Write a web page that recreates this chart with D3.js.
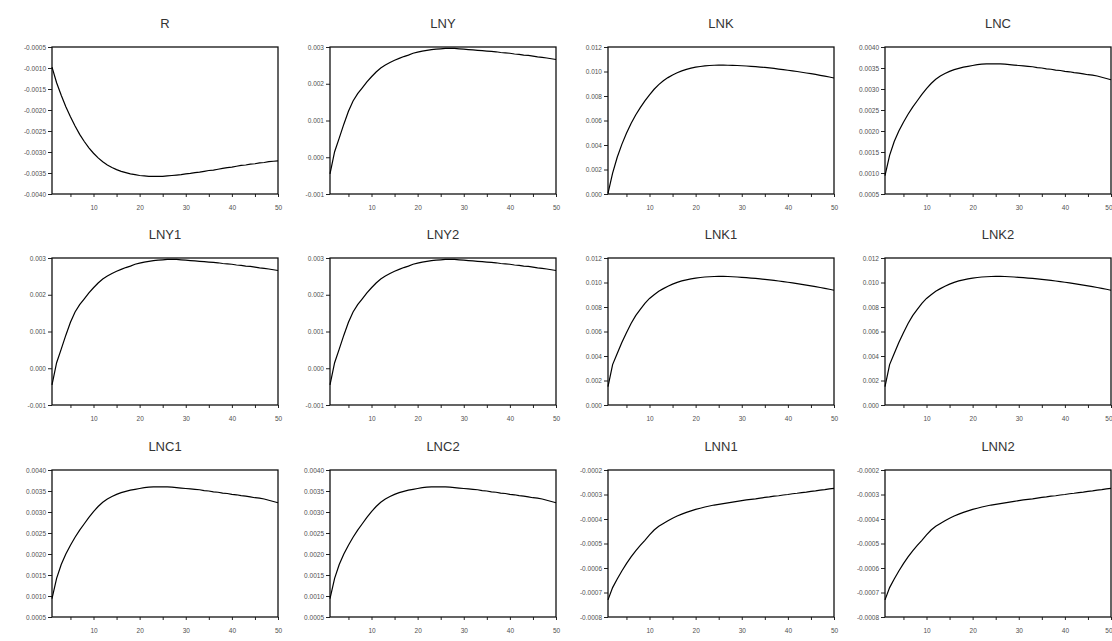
<!DOCTYPE html>
<html>
<head>
<meta charset="utf-8">
<script src="https://cdn.jsdelivr.net/npm/d3@7"></script>
<style>
  body { margin: 0; background: #fff; }
  svg { display: block; }
  .title { font-family: "Liberation Sans", Arial, sans-serif; font-size: 13px; fill: #333; }
  .axis text { font-family: "Liberation Sans", Arial, sans-serif; font-size: 6.5px; fill: #505050; }
  .axis path, .axis line { stroke: #222; }
</style>
</head>
<body>
<div id="chart"></div>
<script>
var periods = d3.range(1, 51);

var titles = ["R", "LNY", "LNK", "LNC", "LNY1", "LNY2", "LNK1", "LNK2", "LNC1", "LNC2", "LNN1", "LNN2"];

var rValues = [-0.00098, -0.00135, -0.00165, -0.00192, -0.00216, -0.00238, -0.00258, -0.00275, -0.00290, -0.00303,
    -0.00314, -0.00323, -0.00331, -0.00337, -0.00342, -0.00346, -0.00349, -0.00352, -0.00354, -0.00356,
    -0.00357, -0.00358, -0.00358, -0.00358, -0.00358, -0.00357, -0.00356, -0.00355, -0.00354, -0.00352,
    -0.00351, -0.00349, -0.00348, -0.00346, -0.00344, -0.00343, -0.00341, -0.00339, -0.00337, -0.00336,
    -0.00334, -0.00332, -0.00331, -0.00329, -0.00328, -0.00326, -0.00325, -0.00323, -0.00322, -0.00321];

var lnyValues = [-0.00045, 0.00015, 0.00052, 0.00090, 0.00125, 0.00153, 0.00173, 0.00189, 0.00205, 0.00219,
    0.00232, 0.00243, 0.00251, 0.00258, 0.00264, 0.00269, 0.00274, 0.00278, 0.00283, 0.00286,
    0.00289, 0.00291, 0.00293, 0.00294, 0.00295, 0.00296, 0.00296, 0.00296, 0.00295, 0.00294,
    0.00293, 0.00292, 0.00291, 0.00290, 0.00289, 0.00288, 0.00287, 0.00285, 0.00284, 0.00283,
    0.00281, 0.00280, 0.00278, 0.00277, 0.00275, 0.00273, 0.00272, 0.00270, 0.00268, 0.00266];

var lnkValues = [0.00005, 0.00170, 0.00300, 0.00405, 0.00495, 0.00575, 0.00645, 0.00705, 0.00760, 0.00810,
    0.00855, 0.00893, 0.00925, 0.00950, 0.00972, 0.00990, 0.01005, 0.01017, 0.01027, 0.01035,
    0.01041, 0.01046, 0.01049, 0.01051, 0.01052, 0.01052, 0.01051, 0.01050, 0.01049, 0.01047,
    0.01045, 0.01042, 0.01039, 0.01036, 0.01033, 0.01029, 0.01025, 0.01020, 0.01015, 0.01010,
    0.01005, 0.01000, 0.00994, 0.00988, 0.00982, 0.00976, 0.00969, 0.00962, 0.00955, 0.00947];

var lnk1Values = [0.00150, 0.00330, 0.00420, 0.00510, 0.00590, 0.00665, 0.00730, 0.00780, 0.00830, 0.00870,
    0.00900, 0.00928, 0.00950, 0.00970, 0.00987, 0.01001, 0.01013, 0.01022, 0.01030, 0.01036,
    0.01041, 0.01045, 0.01047, 0.01049, 0.01050, 0.01050, 0.01049, 0.01047, 0.01045, 0.01042,
    0.01039, 0.01036, 0.01033, 0.01029, 0.01025, 0.01021, 0.01017, 0.01012, 0.01007, 0.01002,
    0.00997, 0.00991, 0.00985, 0.00979, 0.00973, 0.00966, 0.00959, 0.00952, 0.00945, 0.00937];

var lncValues = [0.00094, 0.00142, 0.00175, 0.00200, 0.00221, 0.00240, 0.00257, 0.00272, 0.00287, 0.00301,
    0.00313, 0.00323, 0.00331, 0.00337, 0.00342, 0.00346, 0.00349, 0.00352, 0.00354, 0.00356,
    0.00358, 0.00359, 0.00360, 0.00360, 0.00360, 0.00360, 0.00359, 0.00358, 0.00357, 0.00356,
    0.00355, 0.00354, 0.00353, 0.00351, 0.00350, 0.00348, 0.00347, 0.00345, 0.00344, 0.00342,
    0.00341, 0.00339, 0.00338, 0.00336, 0.00334, 0.00333, 0.00331, 0.00328, 0.00325, 0.00322];

var lnnValues = [-0.00073, -0.00068, -0.000645, -0.000612, -0.000582, -0.000555, -0.00053, -0.000508, -0.000487, -0.000465,
    -0.000445, -0.00043, -0.000418, -0.000407, -0.000397, -0.000388, -0.00038, -0.000373, -0.000367, -0.000361,
    -0.000356, -0.000351, -0.000347, -0.000343, -0.00034, -0.000337, -0.000334, -0.000331, -0.000328, -0.000325,
    -0.000322, -0.00032, -0.000318, -0.000315, -0.000312, -0.00031, -0.000307, -0.000305, -0.000302, -0.0003,
    -0.000297, -0.000295, -0.000292, -0.00029, -0.000287, -0.000285, -0.000282, -0.00028, -0.000277, -0.000275];

// y tick labels, one list per kind of panel
var rTicks = [-0.0040, -0.0035, -0.0030, -0.0025, -0.0020, -0.0015, -0.0010, -0.0005];
var lnyTicks = [-0.001, 0.000, 0.001, 0.002, 0.003];
var lnkTicks = [0.000, 0.002, 0.004, 0.006, 0.008, 0.010, 0.012];
var lncTicks = [0.0005, 0.0010, 0.0015, 0.0020, 0.0025, 0.0030, 0.0035, 0.0040];
var lnnTicks = [-0.0008, -0.0007, -0.0006, -0.0005, -0.0004, -0.0003, -0.0002];

var xTicks = [5, 10, 15, 20, 25, 30, 35, 40, 45, 50];
var xLabels = [10, 20, 30, 40, 50];

var panelValues = [rValues, lnyValues, lnkValues, lncValues, lnyValues, lnyValues, lnk1Values, lnk1Values,
    lncValues, lncValues, lnnValues, lnnValues];
var panelTicks = [rTicks, lnyTicks, lnkTicks, lncTicks, lnyTicks, lnyTicks, lnkTicks, lnkTicks,
    lncTicks, lncTicks, lnnTicks, lnnTicks];
var panelDigits = [4, 3, 3, 4, 3, 3, 3, 3, 4, 4, 4, 4];

var width = 1112, height = 641;
var plotW = 226, plotH = 147;
var colLeft = [52, 330, 608, 885];
var rowTop = [47, 258, 470];

var svg = d3.select("#chart")
    .append("svg")
    .attr("width", width)
    .attr("height", height);

titles.forEach(function(title, i) {
    var col = i % 4, row = Math.floor(i / 4);
    var ticks = panelTicks[i];
    var values = panelValues[i];

    var g = svg.append("g")
        .attr("transform", "translate(" + colLeft[col] + "," + rowTop[row] + ")");

    var x = d3.scaleLinear().domain([1, 50]).range([0, plotW]);
    var y = d3.scaleLinear().domain(d3.extent(ticks)).range([plotH, 0]);

    var fmt = d3.format("." + panelDigits[i] + "f");

    g.append("g")
        .attr("class", "axis")
        .call(d3.axisLeft(y)
            .tickValues(ticks)
            .tickSize(4)
            .tickPadding(2)
            .tickFormat(function(d) { return fmt(d).replace("\u2212", "-"); }))
        .call(function(a) { a.select(".domain").remove(); });

    var xAxis = g.append("g")
        .attr("class", "axis")
        .attr("transform", "translate(0," + plotH + ")")
        .call(d3.axisBottom(x)
            .tickValues(xTicks)
            .tickSize(3)
            .tickPadding(8)
            .tickFormat(function(d) { return xLabels.indexOf(d) >= 0 ? d : ""; }))
        .call(function(a) { a.select(".domain").remove(); });

    // the last column sits at the page edge, keep its "50" inside
    if (col == 3) {
        xAxis.selectAll(".tick text")
            .filter(function(d) { return d == 50; })
            .attr("text-anchor", "end")
            .attr("dx", 1);
    }

    g.append("rect")
        .attr("width", plotW)
        .attr("height", plotH)
        .attr("fill", "none")
        .attr("stroke", "#111")
        .attr("stroke-width", 1.3);

    var line = d3.line()
        .x(function(d, j) { return x(periods[j]); })
        .y(function(d) { return y(d); });

    g.append("path")
        .datum(values)
        .attr("d", line)
        .attr("fill", "none")
        .attr("stroke", "#000")
        .attr("stroke-width", 1.2);

    g.append("text")
        .attr("class", "title")
        .attr("x", plotW / 2)
        .attr("y", -19)
        .attr("text-anchor", "middle")
        .text(title);
});
</script>
</body>
</html>
